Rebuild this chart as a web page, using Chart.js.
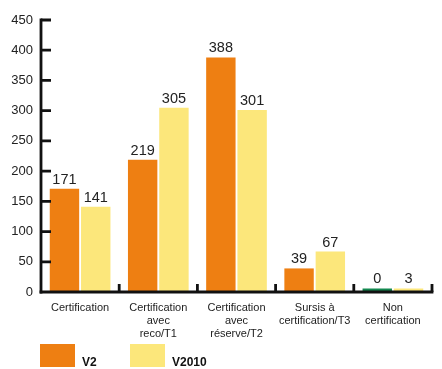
<!DOCTYPE html>
<html>
<head>
<meta charset="utf-8">
<script src="https://cdn.jsdelivr.net/npm/chart.js@4/dist/chart.umd.min.js"></script>
<style>
html,body{margin:0;padding:0;background:#fff;}
#wrap{width:442px;height:369px;position:relative;}
</style>
</head>
<body>
<div id="wrap"><canvas id="c" width="442" height="369"></canvas></div>
<script>
const categories = [
  ["Certification"],
  ["Certification", "avec", "reco/T1"],
  ["Certification", "avec", "réserve/T2"],
  ["Sursis à", "certification/T3"],
  ["Non", "certification"]
];
const seriesV2 = [171, 219, 388, 39, 0];
const seriesV2010 = [141, 305, 301, 67, 3];
const seriesNames = ["V2", "V2010"];
const yTicks = [0, 50, 100, 150, 200, 250, 300, 350, 400, 450];

const ORANGE = '#EE7F12';
const YELLOW = '#FCE77B';
const GREEN = '#12884F';
const FONT = '"Liberation Sans", Arial, Helvetica, sans-serif';

const axesPlugin = {
  id: 'axesPlugin',
  afterDatasetsDraw(chart) {
    const ctx = chart.ctx;
    const ca = chart.chartArea;
    const y = chart.scales.y;
    ctx.save();
    ctx.strokeStyle = '#111';
    ctx.lineWidth = 2.8;
    ctx.lineCap = 'butt';
    // y axis
    ctx.beginPath();
    ctx.moveTo(ca.left, y.getPixelForValue(450) - 1.4);
    ctx.lineTo(ca.left, ca.bottom + 1.4);
    ctx.stroke();
    // x axis
    ctx.beginPath();
    ctx.moveTo(ca.left - 1.4, ca.bottom);
    ctx.lineTo(ca.right + 1.4, ca.bottom);
    ctx.stroke();
    // y ticks inward
    ctx.beginPath();
    yTicks.forEach(v => {
      if (v === 0) return;
      const py = y.getPixelForValue(v);
      ctx.moveTo(ca.left, py);
      ctx.lineTo(ca.left + 10, py);
    });
    // x ticks at category boundaries
    const n = categories.length;
    const w = (ca.right - ca.left) / n;
    for (let i = 1; i <= n; i++) {
      const px = ca.left + i * w;
      ctx.moveTo(px, ca.bottom);
      ctx.lineTo(px, ca.bottom - 8);
    }
    ctx.stroke();
    // data labels
    ctx.fillStyle = '#222';
    ctx.font = '14.5px ' + FONT;
    ctx.textAlign = 'center';
    ctx.textBaseline = 'alphabetic';
    chart.data.datasets.forEach((ds, di) => {
      const meta = chart.getDatasetMeta(di);
      meta.data.forEach((bar, i) => {
        const top = y.getPixelForValue(ds.data[i]);
        ctx.fillText(String(ds.data[i]), bar.x, Math.min(top, ca.bottom - 4) - 5);
      });
    });
    // legend
    ctx.font = 'bold 12px ' + FONT;
    ctx.textAlign = 'left';
    const legendItems = [
      {x: 40, color: ORANGE, label: seriesNames[0]},
      {x: 130, color: YELLOW, label: seriesNames[1]}
    ];
    legendItems.forEach(it => {
      ctx.fillStyle = it.color;
      ctx.fillRect(it.x, 344, 35, 23);
      ctx.fillStyle = '#111';
      ctx.fillText(it.label, it.x + 42, 366);
    });
    ctx.restore();
  }
};

new Chart(document.getElementById('c'), {
  type: 'bar',
  data: {
    labels: categories,
    datasets: [
      {label: seriesNames[0], data: seriesV2,
       backgroundColor: seriesV2.map(v => v === 0 ? GREEN : ORANGE),
       minBarLength: 3.5,
       categoryPercentage: 0.8, barPercentage: 0.94},
      {label: seriesNames[1], data: seriesV2010,
       backgroundColor: YELLOW,
       minBarLength: 3.5,
       categoryPercentage: 0.8, barPercentage: 0.94}
    ]
  },
  options: {
    responsive: false,
    animation: false,
    layout: {padding: {left: 0, right: 10, top: 20, bottom: 0}},
    plugins: {legend: {display: false}, tooltip: {enabled: false}},
    scales: {
      y: {
        min: 0, max: 450,
        afterFit(s) { s.width = 41; },
        afterBuildTicks(s) { s.ticks = yTicks.map(v => ({value: v})); },
        grid: {display: false, drawTicks: false},
        border: {display: false},
        ticks: {padding: 8, color: '#222', font: {family: FONT, size: 13}}
      },
      x: {
        afterFit(s) { s.height = 77; },
        grid: {display: false, drawTicks: false},
        border: {display: false},
        ticks: {padding: 10, color: '#222', maxRotation: 0, autoSkip: false,
                font: {family: FONT, size: 11, lineHeight: 1.15}}
      }
    }
  },
  plugins: [axesPlugin]
});
</script>
</body>
</html>
